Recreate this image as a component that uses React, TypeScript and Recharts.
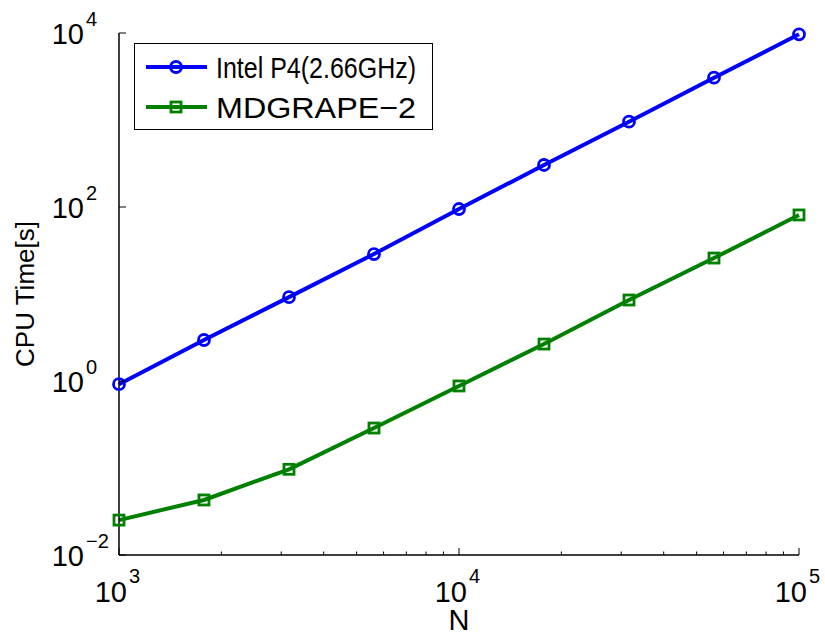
import { LineChart, Line, XAxis, YAxis, Legend } from 'recharts';

// problem size N (quarter-decade steps)
const nValues = [1000, 1778, 3162, 5623, 10000, 17783, 31623, 56234, 100000];
// CPU time in seconds
const intelTimes = [0.92, 2.96, 9.2, 28.8, 94.8, 304, 956, 3065, 9660];
const mdgrapeTimes = [0.0252, 0.0429, 0.0966, 0.288, 0.877, 2.66, 8.53, 25.9, 81];

const xTicks = [
  1000, 2000, 3000, 4000, 5000, 6000, 7000, 8000, 9000,
  10000, 20000, 30000, 40000, 50000, 60000, 70000, 80000, 90000, 100000,
];
const yTicks = [0.01, 1, 100, 10000];

const series = [
  { key: 'intel', name: 'Intel P4(2.66GHz)', color: '#0000ff', marker: 'circle' },
  { key: 'mdgrape', name: 'MDGRAPE\u22122', color: '#008000', marker: 'square' },
];

const data = nValues.map((n, i) => ({ n, intel: intelTimes[i], mdgrape: mdgrapeTimes[i] }));

const FONT = '"Liberation Sans", Arial, Helvetica, sans-serif';

const isDecade = (v: number) => Math.abs(Math.log10(v) - Math.round(Math.log10(v))) < 1e-6;
const expText = (v: number) => {
  const e = Math.round(Math.log10(v));
  return e < 0 ? `\u2212${-e}` : `${e}`;
};

const BottomTick = ({ x, y, payload }: any) => {
  const major = isDecade(payload.value);
  return (
    <g>
      <line x1={x} x2={x} y1={y} y2={y - (major ? 7 : 3.5)} stroke="#000" strokeWidth={1} />
      {major && (
        <g fontFamily={FONT} fill="#000">
          <text x={x + 8} y={y + 47} fontSize={29} textAnchor="end">10</text>
          <text x={x + 10} y={y + 28} fontSize={20} textAnchor="start">{expText(payload.value)}</text>
        </g>
      )}
    </g>
  );
};

const TopTick = ({ x, y, payload }: any) => {
  const major = isDecade(payload.value);
  return <line x1={x} x2={x} y1={y} y2={y + (major ? 7 : 3.5)} stroke="#000" strokeWidth={1} />;
};

const LeftTick = ({ x, y, payload }: any) => (
  <g>
    <line x1={x} x2={x + 7} y1={y} y2={y} stroke="#000" strokeWidth={1} />
    <g fontFamily={FONT} fill="#000">
      <text x={x - 35} y={y + 11} fontSize={29} textAnchor="end">10</text>
      <text x={x - 33} y={y - 7} fontSize={20} textAnchor="start">{expText(payload.value)}</text>
    </g>
  </g>
);

const RightTick = ({ x, y }: any) => (
  <line x1={x} x2={x - 7} y1={y} y2={y} stroke="#000" strokeWidth={1} />
);

const Marker = ({ type, cx, cy, color }: any) =>
  type === 'circle' ? (
    <circle cx={cx} cy={cy} r={5.5} fill="none" stroke={color} strokeWidth={2.8} />
  ) : (
    <rect x={cx - 5} y={cy - 5} width={10} height={10} fill="none" stroke={color} strokeWidth={2.8} />
  );

const LegendBox = () => (
  <svg width={300} height={88} style={{ display: 'block' }}>
    <rect x={0.5} y={0.5} width={298} height={86} fill="#fff" stroke="#000" strokeWidth={1} />
    {series.map((s, i) => {
      const cy = 24 + i * 40;
      return (
        <g key={s.key}>
          <line x1={12} x2={73} y1={cy} y2={cy} stroke={s.color} strokeWidth={4} />
          <Marker type={s.marker} cx={42} cy={cy} color={s.color} />
          <text
            x={82}
            y={cy + 11}
            fontSize={30}
            fontFamily={FONT}
            fill="#000"
            textLength={200}
            lengthAdjust="spacingAndGlyphs"
          >
            {s.name}
          </text>
        </g>
      );
    })}
  </svg>
);

export default function App() {
  return (
    <div style={{ position: 'absolute', left: 0, top: 0, background: '#fff' }}>
      <LineChart width={825} height={634} data={data} margin={{ top: 33, right: 26, left: 0, bottom: 0 }}>
        <XAxis
          xAxisId="bottom"
          dataKey="n"
          type="number"
          scale="log"
          domain={[1000, 100000]}
          ticks={xTicks}
          interval={0}
          height={79}
          tickSize={0}
          tickMargin={0}
          tickLine={false}
          tick={<BottomTick />}
          axisLine={{ stroke: '#000', strokeWidth: 1.5 }}
          label={{
            content: ({ viewBox }: any) => (
              <text
                x={viewBox.x + viewBox.width / 2}
                y={viewBox.y + 75}
                textAnchor="middle"
                fontSize={29}
                fontFamily={FONT}
                fill="#000"
              >
                N
              </text>
            ),
          }}
        />
        <XAxis
          xAxisId="top"
          orientation="top"
          dataKey="n"
          type="number"
          scale="log"
          domain={[1000, 100000]}
          ticks={xTicks}
          interval={0}
          height={0}
          tickSize={0}
          tickMargin={0}
          tickLine={false}
          tick={<TopTick />}
          axisLine={{ stroke: '#000', strokeWidth: 1.5 }}
        />
        <YAxis
          yAxisId="left"
          type="number"
          scale="log"
          domain={[0.01, 10000]}
          ticks={yTicks}
          interval={0}
          width={119}
          tickSize={0}
          tickMargin={0}
          tickLine={false}
          tick={<LeftTick />}
          axisLine={{ stroke: '#000', strokeWidth: 1.5 }}
          label={{
            content: ({ viewBox }: any) => {
              const cy = viewBox.y + viewBox.height / 2;
              return (
                <text
                  x={34}
                  y={cy}
                  transform={`rotate(-90, 34, ${cy})`}
                  textAnchor="middle"
                  fontSize={26}
                  fontFamily={FONT}
                  fill="#000"
                >
                  CPU Time[s]
                </text>
              );
            },
          }}
        />
        <YAxis
          yAxisId="right"
          orientation="right"
          type="number"
          scale="log"
          domain={[0.01, 10000]}
          ticks={yTicks}
          interval={0}
          width={0}
          tickSize={0}
          tickMargin={0}
          tickLine={false}
          tick={<RightTick />}
          axisLine={{ stroke: '#000', strokeWidth: 1.5 }}
        />
        <Legend
          layout="horizontal"
          verticalAlign="middle"
          align="center"
          content={() => <LegendBox />}
          wrapperStyle={{ left: 134, top: 43, width: 300, height: 88 }}
        />
        {series.map((s) => (
          <Line
            key={s.key}
            xAxisId="bottom"
            yAxisId="left"
            dataKey={s.key}
            name={s.name}
            stroke={s.color}
            strokeWidth={4}
            isAnimationActive={false}
            dot={(p: any) => <Marker key={`${s.key}-${p.index}`} type={s.marker} cx={p.cx} cy={p.cy} color={s.color} />}
            activeDot={false}
          />
        ))}
      </LineChart>
    </div>
  );
}
